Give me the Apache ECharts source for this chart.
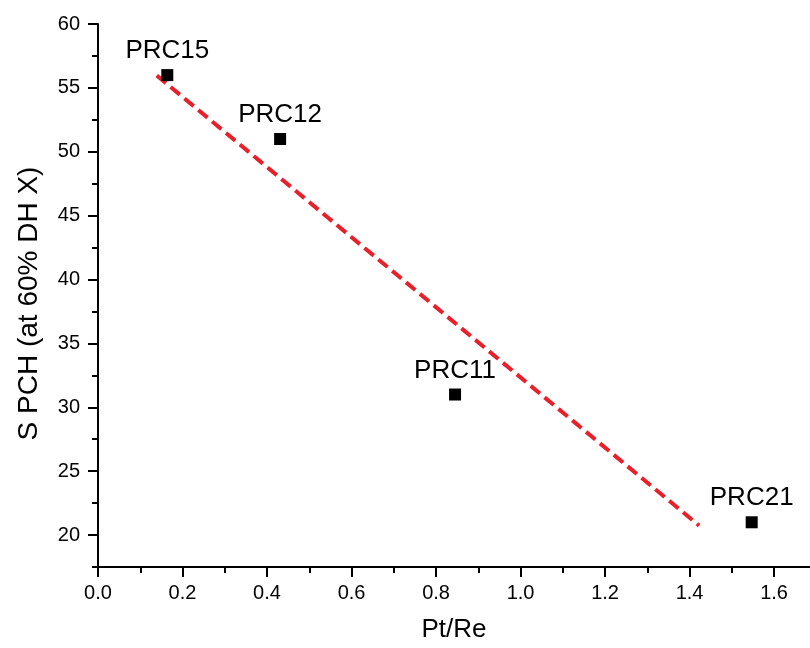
<!DOCTYPE html>
<html>
<head>
<meta charset="utf-8">
<script src="https://cdn.jsdelivr.net/npm/echarts@6/dist/echarts.min.js"></script>
<style>html,body{margin:0;padding:0;background:#fff;}#c{width:810px;height:648px;}</style>
</head>
<body>
<div id="c"></div>
<script>
const sampleNames = ['PRC15', 'PRC12', 'PRC11', 'PRC21'];
const ptRe = [0.164, 0.431, 0.845, 1.547];
const sPCH = [56, 51, 31, 21];
const fitX = [0.139, 1.4225];
const fitY = [55.97, 20.74];
const xMajorTicks = [0, 0.2, 0.4, 0.6, 0.8, 1.0, 1.2, 1.4, 1.6];
const xMinorTicks = [0.1, 0.3, 0.5, 0.7, 0.9, 1.1, 1.3, 1.5];
const yMajorTicks = [20, 25, 30, 35, 40, 45, 50, 55, 60];
const yMinorTicks = [17.5, 22.5, 27.5, 32.5, 37.5, 42.5, 47.5, 52.5, 57.5];

const FONT = 'Liberation Sans, Arial, sans-serif';
const chart = echarts.init(document.getElementById('c'));
const axisLineStyle = { color: '#000', width: 2 };
chart.setOption({
  animation: false,
  grid: { left: 98, right: 0, top: 24, bottom: 76, containLabel: false },
  xAxis: [{
    type: 'value', min: 0, max: 1.685, position: 'bottom',
    name: 'Pt/Re', nameLocation: 'middle', nameGap: 50,
    nameTextStyle: { fontFamily: FONT, fontSize: 26, color: '#000' },
    axisLine: { show: true, lineStyle: axisLineStyle },
    axisTick: { show: true, inside: false, length: 10, lineStyle: { color: '#000', width: 2 }, customValues: xMajorTicks },
    axisLabel: { fontFamily: FONT, fontSize: 20, color: '#000', margin: 16, customValues: xMajorTicks,
      formatter: v => v.toFixed(1) },
    splitLine: { show: false }
  }, {
    type: 'value', min: 0, max: 1.685, position: 'bottom',
    axisLine: { show: false },
    axisTick: { show: true, length: 6, lineStyle: { color: '#000', width: 2 }, customValues: xMinorTicks },
    axisLabel: { show: false },
    splitLine: { show: false }
  }],
  yAxis: [{
    type: 'value', min: 17.5, max: 60, position: 'left',
    name: 'S PCH (at 60% DH X)', nameLocation: 'middle', nameGap: 55, nameRotate: 90,
    nameTextStyle: { fontFamily: FONT, fontSize: 28, color: '#000', padding: [0, 16, 0, 0] },
    axisLine: { show: true, lineStyle: axisLineStyle },
    axisTick: { show: true, length: 10, lineStyle: { color: '#000', width: 2 }, customValues: yMajorTicks },
    axisLabel: { fontFamily: FONT, fontSize: 20, color: '#000', margin: 18, customValues: yMajorTicks },
    splitLine: { show: false }
  }, {
    type: 'value', min: 17.5, max: 60, position: 'left',
    axisLine: { show: false },
    axisTick: { show: true, length: 6, lineStyle: { color: '#000', width: 2 }, customValues: yMinorTicks },
    axisLabel: { show: false },
    splitLine: { show: false }
  }],
  series: [{
    type: 'line',
    data: fitX.map((x, i) => [x, fitY[i]]),
    symbol: 'none',
    lineStyle: { color: '#e8202a', width: 4, type: [12, 6] },
    z: 2
  }, {
    type: 'scatter',
    data: ptRe.map((x, i) => ({ value: [x, sPCH[i]], name: sampleNames[i] })),
    symbol: 'rect', symbolSize: 12,
    itemStyle: { color: '#000', opacity: 1 },
    label: { show: true, position: 'top', distance: 5, formatter: p => p.name,
      fontFamily: FONT, fontSize: 26, color: '#000' },
    z: 3
  }]
});
</script>
</body>
</html>
